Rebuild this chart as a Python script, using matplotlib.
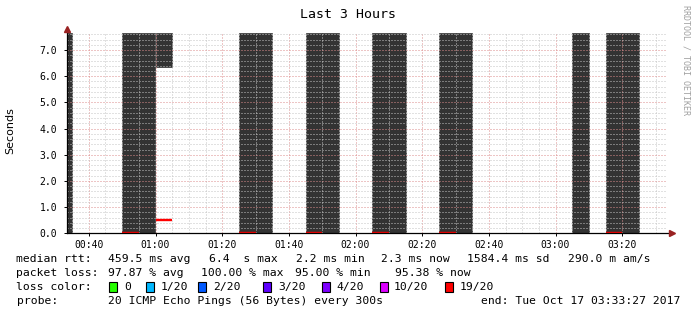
import numpy as np
import matplotlib
matplotlib.use('Agg')
import matplotlib.pyplot as plt
from matplotlib.patches import Rectangle
from matplotlib.ticker import MultipleLocator, FuncFormatter

nan = np.nan

# 5-minute bins (start time), smoke range and median rtt in seconds
bin_start = ['00:30', '00:50', '00:55', '01:00', '01:25', '01:30', '01:45', '01:50',
             '02:05', '02:10', '02:25', '02:30', '03:05', '03:15', '03:20']
smoke_lo = [0, 0, 0, 6.36, 0, 0, 0, 0, 0, 0, 0, 0, 0, 0, 0]
smoke_hi = [7.64, 7.64, 7.64, 7.64, 7.64, 7.64, 7.64, 7.64,
            7.64, 7.64, 7.64, 7.64, 7.64, 7.64, 7.64]
median = [nan, 0.002, nan, 0.49, 0.002, nan, 0.002, nan,
          0.002, nan, 0.002, nan, nan, 0.002, nan]

t_start = '00:33:27'
t_end = '03:33:27'

# legend texts
rtt_items = ['median rtt:', '459.5 ms avg', '6.4  s max', '2.2 ms min', '2.3 ms now',
             '1584.4 ms sd', '290.0 m am/s']
loss_items = ['packet loss:', '97.87 % avg', '100.00 % max', '95.00 % min', '95.38 % now']
loss_labels = ['0', '1/20', '2/20', '3/20', '4/20', '10/20', '19/20']
loss_colors = ['#26ff00', '#00b8ff', '#0059ff', '#5e00ff', '#7e00ff', '#dd00ff', '#ff0000']
probe_text = '20 ICMP Echo Pings (56 Bytes) every 300s'
end_text = 'end: Tue Oct 17 03:33:27 2017'


def to_min(s):
    parts = [int(p) for p in s.split(':')]
    while len(parts) < 3:
        parts.append(0)
    return parts[0] * 60 + parts[1] + parts[2] / 60.0


W, H = 697, 315
mono = 'DejaVu Sans Mono'

fig = plt.figure(figsize=(W / 100, H / 100), dpi=100)
fig.patch.set_facecolor('white')
ax = fig.add_axes([67 / W, (H - 233.3) / H, 600 / W, 200 / H])

x = np.array([to_min(s) for s in bin_start])
lo = np.array(smoke_lo)
hi = np.array(smoke_hi)
med = np.array(median)

# smoke (thin edge in same colour hides seams between neighbouring bins)
ax.bar(x, hi - lo, bottom=lo, width=5, align='edge', color='#333333',
       edgecolor='#333333', linewidth=0.5, zorder=1)
# median line (19/20 loss -> red)
ok = ~np.isnan(med)
ax.hlines(med[ok], x[ok], x[ok] + 5, colors='#ff0000', linewidth=1.7, zorder=3)

ax.set_xlim(to_min(t_start), to_min(t_end))
ax.set_ylim(0, 7.64)

ax.xaxis.set_major_locator(MultipleLocator(20))
ax.xaxis.set_minor_locator(MultipleLocator(5))
ax.yaxis.set_major_locator(MultipleLocator(1))
ax.yaxis.set_minor_locator(MultipleLocator(0.2))
ax.xaxis.set_major_formatter(FuncFormatter(lambda v, p: '%02d:%02d' % (int(v) // 60, int(v) % 60)))
ax.yaxis.set_major_formatter(FuncFormatter(lambda v, p: '%.1f' % v))

ax.set_axisbelow(False)
ax.grid(which='minor', color='#c4c4c4', linestyle=(0, (1, 2)), linewidth=0.72)
ax.grid(which='major', color='#dc8c8c', linestyle=(0, (1, 2)), linewidth=0.72)

ax.tick_params(which='major', length=2, width=0.7, labelsize=7, pad=3)
ax.tick_params(axis='y', pad=5)
ax.tick_params(which='minor', length=0)
for lab in ax.get_xticklabels() + ax.get_yticklabels():
    lab.set_family(mono)

for sp in ax.spines.values():
    sp.set_visible(False)

# axes with arrows
ax.plot([0, 1.008], [0, 0], color='black', lw=0.9, transform=ax.transAxes, clip_on=False, zorder=4)
ax.plot([0, 0], [0, 1.02], color='black', lw=0.9, transform=ax.transAxes, clip_on=False, zorder=4)
ax.plot(1.008, 0, marker='>', ms=4, color='#992222', transform=ax.transAxes, clip_on=False, zorder=5)
ax.plot(0, 1.02, marker='^', ms=4, color='#992222', transform=ax.transAxes, clip_on=False, zorder=5)

# title, axis label, watermark
fig.text(347.5 / W, 1 - 14 / H, 'Last 3 Hours', ha='center', va='center', size=9.5, family=mono)
fig.text(10.5 / W, 1 - 131 / H, 'Seconds', rotation=90, ha='center', va='center', size=8,
         family='DejaVu Sans')
fig.text(686 / W, 1 - 60 / H, 'RRDTOOL / TOBI OETIKER', rotation=270, ha='center', va='center',
         size=6, color='#a0a0a0', family=mono)

# legend
lsize = 8.2
rtt_x = [16.5, 108.1, 208.7, 295.8, 381.1, 466.9, 568.4]
for s, px in zip(rtt_items, rtt_x):
    fig.text(px / W, 1 - 259 / H, s, va='center', size=lsize, family=mono)

loss_x = [16.5, 108.1, 201, 294.9, 395]
for s, px in zip(loss_items, loss_x):
    fig.text(px / W, 1 - 273 / H, s, va='center', size=lsize, family=mono)

fig.text(16.5 / W, 1 - 287 / H, 'loss color:', va='center', size=lsize, family=mono)
box_x = [108.6, 146.1, 197.9, 263.2, 321.7, 379.8, 444.6]
lab_x = [124.2, 160.9, 213.1, 277.9, 336.5, 394.1, 459.3]
for lab, col, bx, tx in zip(loss_labels, loss_colors, box_x, lab_x):
    fig.add_artist(Rectangle((bx / W, 1 - 292 / H), 8 / W, 10 / H, facecolor=col,
                             edgecolor='black', linewidth=0.8, transform=fig.transFigure))
    fig.text(tx / W, 1 - 287 / H, lab, va='center', size=lsize, family=mono)

fig.text(16.5 / W, 1 - 301 / H, 'probe:', va='center', size=lsize, family=mono)
fig.text(108.1 / W, 1 - 301 / H, probe_text, va='center', size=lsize, family=mono)
fig.text(481.2 / W, 1 - 301 / H, end_text, va='center', size=lsize, family=mono)

fig.savefig('out.png', dpi=100)
